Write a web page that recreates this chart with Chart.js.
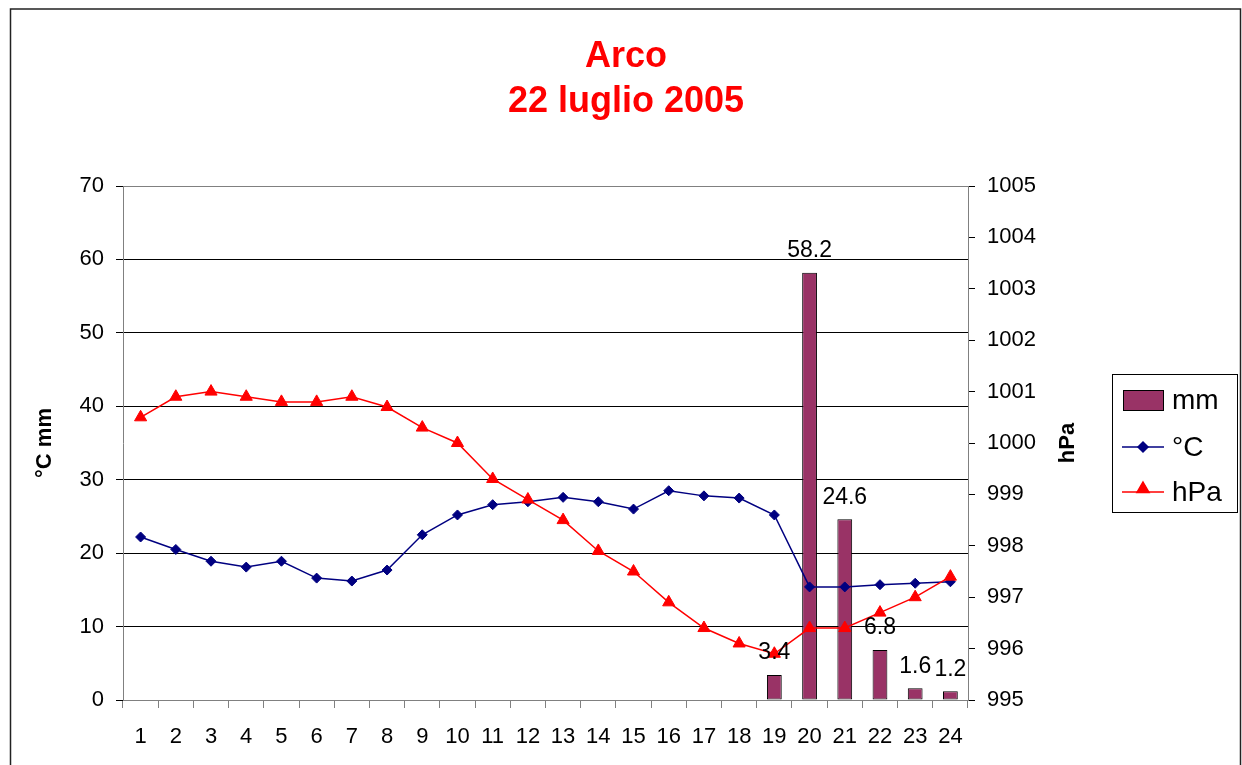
<!DOCTYPE html>
<html>
<head>
<meta charset="utf-8">
<title>Arco - 22 luglio 2005</title>
<script src="https://cdn.jsdelivr.net/npm/chart.js@4.4.1/dist/chart.umd.min.js"></script>
<style>
  html, body { margin: 0; padding: 0; background: #fff; }
  #wrap { position: relative; width: 1242px; height: 765px; }
</style>
</head>
<body>
<div id="wrap"><canvas id="arcoChart" width="1242" height="765"></canvas></div>
<script>
// ========================================
// Data
// ========================================
const hours = ['1', '2', '3', '4', '5', '6', '7', '8', '9', '10', '11', '12',
  '13', '14', '15', '16', '17', '18', '19', '20', '21', '22', '23', '24'];

// rain, mm per hour (no bar where nothing fell)
const rainMm = [null, null, null, null, null, null, null, null, null, null, null, null,
  null, null, null, null, null, null, 3.4, 58.2, 24.6, 6.8, 1.6, 1.2];

// temperature, °C
const tempC = [22.2, 20.5, 18.9, 18.1, 18.9, 16.6, 16.2, 17.7, 22.5, 25.2, 26.6, 27.0,
  27.6, 27.0, 26.0, 28.5, 27.8, 27.5, 25.2, 15.4, 15.4, 15.7, 15.9, 16.1];

// pressure, hPa
const pressureHpa = [1000.5, 1000.9, 1001.0, 1000.9, 1000.8, 1000.8, 1000.9, 1000.7, 1000.3, 1000.0, 999.3, 998.9,
  998.5, 997.9, 997.5, 996.9, 996.4, 996.1, 995.9, 996.4, 996.4, 996.7, 997.0, 997.4];

const titleLines = ['Arco', '22 luglio 2005'];

const FONT = '"Liberation Sans", Arial, sans-serif';
const RAIN_COLOR = '#993366';
const TEMP_COLOR = '#000080';
const PRES_COLOR = '#ff0000';
const AXIS_GRAY = '#808080';

// ========================================
// Small plugins
// ========================================

// white page + outer frame of the chart
const framePlugin = {
  id: 'frame',
  beforeDraw(chart) {
    const ctx = chart.ctx;
    ctx.save();
    ctx.fillStyle = '#fff';
    ctx.fillRect(0, 0, chart.width, chart.height);
    ctx.strokeStyle = '#222';
    ctx.lineWidth = 1.5;
    ctx.strokeRect(10.5, 9, 1230, 800);
    ctx.restore();
  }
};

// value labels above the rain bars
const barLabelPlugin = {
  id: 'barLabels',
  afterDatasetsDraw(chart) {
    const ctx = chart.ctx;
    const meta = chart.getDatasetMeta(0);
    ctx.save();
    ctx.font = '23px ' + FONT;
    ctx.fillStyle = '#000';
    ctx.textAlign = 'center';
    ctx.textBaseline = 'middle';
    meta.data.forEach((bar, i) => {
      const v = rainMm[i];
      if (v === null || v === undefined) return;
      ctx.fillText(v.toFixed(1), bar.x, bar.y - 22);
    });
    ctx.restore();
  }
};

// right axis title (reads bottom-to-top like the left one) and the boxed legend
const sidePlugin = {
  id: 'sideBits',
  afterDraw(chart) {
    const ctx = chart.ctx;
    const area = chart.chartArea;
    ctx.save();

    // hPa axis title
    ctx.translate(1068, (area.top + area.bottom) / 2);
    ctx.rotate(-Math.PI / 2);
    ctx.font = 'bold 22px ' + FONT;
    ctx.fillStyle = '#000';
    ctx.textAlign = 'center';
    ctx.textBaseline = 'middle';
    ctx.fillText('hPa', 0, 0);
    ctx.setTransform(1, 0, 0, 1, 0, 0);

    // legend box
    ctx.strokeStyle = '#000';
    ctx.lineWidth = 1;
    ctx.strokeRect(1112.5, 374.5, 125, 138);

    ctx.font = '28px ' + FONT;
    ctx.textAlign = 'left';
    ctx.fillStyle = '#000';

    // mm
    ctx.fillStyle = RAIN_COLOR;
    ctx.fillRect(1123, 390, 41, 21);
    ctx.strokeRect(1123.5, 390.5, 40, 20);
    ctx.fillStyle = '#000';
    ctx.fillText('mm', 1172, 401);

    // °C
    ctx.strokeStyle = TEMP_COLOR;
    ctx.lineWidth = 1.5;
    ctx.beginPath();
    ctx.moveTo(1122, 447);
    ctx.lineTo(1164, 447);
    ctx.stroke();
    Chart.helpers.drawPoint(ctx, {pointStyle: 'rectRot', radius: 5, borderWidth: 1}, 1143, 447);
    ctx.fillStyle = TEMP_COLOR;
    ctx.fill();
    ctx.fillStyle = '#000';
    ctx.fillText('°C', 1172, 448);

    // hPa
    ctx.strokeStyle = PRES_COLOR;
    ctx.beginPath();
    ctx.moveTo(1122, 492);
    ctx.lineTo(1164, 492);
    ctx.stroke();
    Chart.helpers.drawPoint(ctx, {pointStyle: 'triangle', radius: 7, borderWidth: 1}, 1143, 489);
    ctx.fillStyle = PRES_COLOR;
    ctx.fill();
    ctx.fillStyle = '#000';
    ctx.fillText('hPa', 1172, 493);

    ctx.restore();
  }
};

// ========================================
// Chart
// ========================================
function initializeArcoChart() {
  const ctx = document.getElementById('arcoChart');
  if (!ctx) return;

  new Chart(ctx, {
    data: {
      labels: hours,
      datasets: [{
        type: 'bar',
        label: 'mm',
        data: rainMm,
        yAxisID: 'y',
        backgroundColor: RAIN_COLOR,
        borderColor: '#000',
        borderWidth: 1,
        borderSkipped: false,
        categoryPercentage: 1,
        barPercentage: 0.42,
        order: 3
      }, {
        type: 'line',
        label: '°C',
        data: tempC,
        yAxisID: 'y',
        borderColor: TEMP_COLOR,
        backgroundColor: TEMP_COLOR,
        borderWidth: 1.5,
        pointStyle: 'rectRot',
        pointRadius: 5,
        pointBorderWidth: 1,
        tension: 0,
        order: 2
      }, {
        type: 'line',
        label: 'hPa',
        data: pressureHpa,
        yAxisID: 'y2',
        borderColor: PRES_COLOR,
        backgroundColor: PRES_COLOR,
        borderWidth: 1.5,
        pointStyle: 'triangle',
        pointRadius: 7,
        pointBorderWidth: 1,
        tension: 0,
        order: 1
      }]
    },
    options: {
      responsive: false,
      animation: false,
      devicePixelRatio: 1,
      layout: {
        padding: { left: 10, right: 0, top: 0, bottom: 0 }
      },
      plugins: {
        legend: { display: false },
        tooltip: { enabled: false },
        title: {
          display: true,
          text: titleLines,
          color: '#ff0000',
          font: { family: FONT, size: 36, weight: 'bold', lineHeight: 1.25 },
          padding: { top: 34.5, bottom: 61.5 }
        }
      },
      scales: {
        x: {
          offset: true,
          afterFit(scale) { scale.height = 65; },
          grid: {
            offset: true,
            drawOnChartArea: false,
            tickLength: 8,
            color: AXIS_GRAY
          },
          border: { color: AXIS_GRAY },
          ticks: {
            color: '#000',
            autoSkip: false,
            maxRotation: 0,
            padding: 16,
            font: { family: FONT, size: 22 }
          }
        },
        y: {
          position: 'left',
          min: 0,
          max: 70,
          afterFit(scale) { scale.width = 113; },
          grid: {
            color: (c) => (c.tick && c.tick.value === 70 ? AXIS_GRAY : '#000'),
            tickColor: '#000',
            tickLength: 7
          },
          border: { color: AXIS_GRAY },
          ticks: {
            stepSize: 10,
            color: '#000',
            padding: 12,
            font: { family: FONT, size: 22 }
          },
          title: {
            display: true,
            text: '°C mm',
            color: '#000',
            font: { family: FONT, size: 22, weight: 'bold', lineHeight: 1.2 },
            padding: { top: 22, bottom: 0 }
          }
        },
        y2: {
          position: 'right',
          min: 995,
          max: 1005,
          // room for the tick labels, the hPa title and the legend box
          afterFit(scale) { scale.width = 274; },
          grid: {
            drawOnChartArea: false,
            color: '#000',
            tickLength: 7
          },
          border: { color: AXIS_GRAY },
          ticks: {
            stepSize: 1,
            color: '#000',
            padding: 12,
            font: { family: FONT, size: 22 },
            callback: (value) => String(value)
          }
        }
      }
    },
    plugins: [framePlugin, barLabelPlugin, sidePlugin]
  });
}

document.addEventListener('DOMContentLoaded', initializeArcoChart);
</script>
</body>
</html>
